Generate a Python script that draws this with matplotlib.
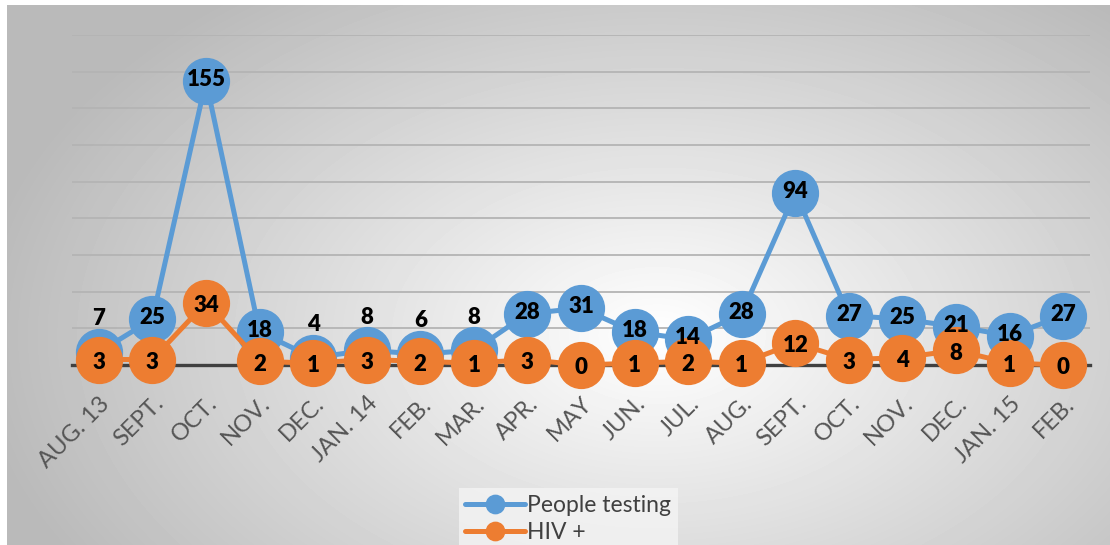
import numpy as np
import matplotlib
matplotlib.use("Agg")
import matplotlib.pyplot as plt

months = ['AUG. 13', 'SEPT.', 'OCT.', 'NOV.', 'DEC.', 'JAN. 14', 'FEB.', 'MAR.', 'APR.', 'MAY',
          'JUN.', 'JUL.', 'AUG.', 'SEPT.', 'OCT.', 'NOV.', 'DEC.', 'JAN. 15', 'FEB.']
people_testing = [7, 25, 155, 18, 4, 8, 6, 8, 28, 31, 18, 14, 28, 94, 27, 25, 21, 16, 27]
hiv_pos = [3, 3, 34, 2, 1, 3, 2, 1, 3, 0, 1, 2, 1, 12, 3, 4, 8, 1, 0]

blue = '#5b9bd5'
orange = '#ed7d31'

plt.rcParams['font.family'] = ['Lato', 'DejaVu Sans']

W, H = 1110, 545
fig = plt.figure(figsize=(W / 100, H / 100), dpi=100, facecolor='white')

# radial gradient background
bg = fig.add_axes([7 / W, 0, 1 - 7 / W, 1 - 5 / H])
yy, xx = np.mgrid[0:540, 0:1103]
cx, cy = 650, 330
d = np.sqrt(((xx - cx) / 680.0) ** 2 + ((yy - cy) / 430.0) ** 2)
shade = 1 - 0.27 * np.clip(d, 0, 1)
bg.imshow(shade, cmap='gray', vmin=0, vmax=1, aspect='auto', interpolation='bilinear')
bg.set_axis_off()

ax = fig.add_axes([72 / W, 1 - 365 / H, (1090 - 72) / W, (365 - 35) / H])
ax.patch.set_alpha(0)
x = np.arange(len(months))

ax.plot(x, people_testing, color=blue, lw=3.6, marker='o', ms=33, mec=blue,
        label='People testing', clip_on=False, zorder=3, solid_capstyle='round')
ax.plot(x, hiv_pos, color=orange, lw=3.6, marker='o', ms=33, mec=orange,
        label='HIV +', clip_on=False, zorder=4, solid_capstyle='round')

for i, v in enumerate(people_testing):
    if v < 10:
        ax.annotate(str(v), (i, v), xytext=(0, 24), textcoords='offset points',
                    ha='center', va='center', fontsize=16, fontweight='heavy', color='black', zorder=6)
    else:
        ax.annotate(str(v), (i, v), xytext=(0, 1), textcoords='offset points',
                    ha='center', va='center', fontsize=16, fontweight='heavy', color='black', zorder=6)
for i, v in enumerate(hiv_pos):
    ax.annotate(str(v), (i, v), xytext=(0, -2), textcoords='offset points',
                ha='center', va='center', fontsize=16, fontweight='heavy', color='black', zorder=6)

ax.set_xlim(-0.5, len(months) - 0.5)
ax.set_ylim(0, 180)
ax.set_yticks(range(0, 181, 20))
ax.yaxis.grid(True, color='#b4b4b4', lw=1.3)
ax.set_axisbelow(True)
ax.tick_params(axis='y', length=0, labelleft=False)
ax.set_xticks(x)
ax.set_xticklabels(months, rotation=45, ha='right', rotation_mode='anchor',
                   fontsize=17, color='#555555')
ax.tick_params(axis='x', length=0, pad=20)
for s in ['top', 'right', 'left']:
    ax.spines[s].set_visible(False)
ax.spines['bottom'].set_color('#404040')
ax.spines['bottom'].set_linewidth(2.4)
ax.spines['bottom'].set_zorder(2)

leg = fig.legend(handles=ax.get_lines(), loc='upper center', bbox_to_anchor=(0.512, 1 - 477 / H),
                 ncol=1, fontsize=16.5, frameon=True, fancybox=False, markerscale=0.4,
                 handlelength=2.6, handletextpad=0.1, borderpad=0.3, labelspacing=0.25,
                 labelcolor='#404040')
leg.get_frame().set_facecolor('#f4f4f4')
leg.get_frame().set_edgecolor('none')

fig.savefig('out.png', dpi=100, facecolor='white')
